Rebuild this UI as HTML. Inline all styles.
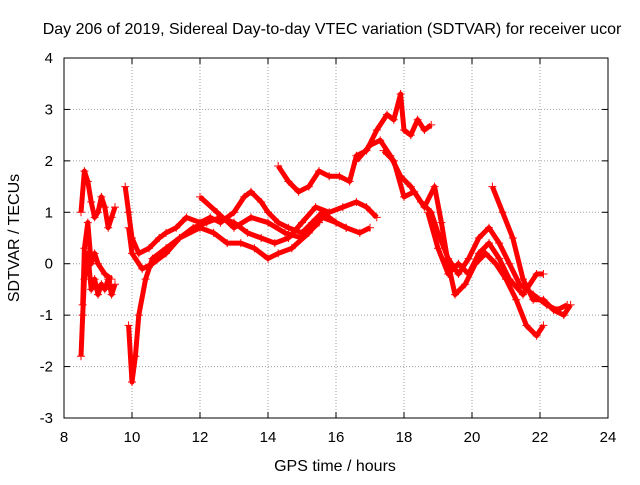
<!DOCTYPE html>
<html><head><meta charset="utf-8"><style>
body{margin:0;background:#fff;}
svg text{font-family:"Liberation Sans",sans-serif;font-size:15px;fill:#000;}
svg text.big{font-size:16px;}
</style></head><body>
<svg id="chart" width="640" height="480">
<text class="big" x="332" y="34" text-anchor="middle">Day 206 of 2019, Sidereal Day-to-day VTEC variation (SDTVAR) for receiver ucor</text>
<g id="grid"></g><g id="ticks"></g><g id="series"></g>
<rect x="64" y="58" width="544" height="360" fill="none" stroke="#000"/>
<text class="big" x="335" y="471" text-anchor="middle">GPS time / hours</text>
<text class="big" transform="translate(19,238) rotate(-90)" text-anchor="middle">SDTVAR / TECUs</text>
</svg>
<script>
const xTicks=[8,10,12,14,16,18,20,22,24];
const yTicks=[-3,-2,-1,0,1,2,3,4];
const trackA=[[8.5,1.0],[8.6,1.8],[8.7,1.6],[8.8,1.2],[8.9,0.9],[9.0,1.0],[9.1,1.3],[9.2,1.1],[9.3,0.7],[9.4,0.9],[9.5,1.1]];
const trackB=[[8.5,-1.8],[8.55,-1.0],[8.6,-0.3],[8.7,0.2],[8.8,-0.5],[8.9,-0.3],[9.0,-0.6],[9.1,-0.4],[9.2,-0.5],[9.3,-0.3],[9.4,-0.6],[9.5,-0.4]];
const trackC=[[8.55,-0.8],[8.6,0.3],[8.7,0.8],[8.8,0.0],[8.9,0.2],[9.0,0.0],[9.2,-0.2],[9.4,-0.3]];
const trackD=[[9.8,1.5],[9.9,1.0],[10.0,0.5],[10.2,0.2],[10.5,0.3],[10.8,0.5],[11.0,0.6],[11.3,0.7],[11.6,0.9],[12.0,0.8],[12.3,0.9],[12.6,0.8],[13.0,1.0],[13.3,1.3],[13.5,1.4],[13.8,1.2],[14.0,1.0],[14.3,0.8],[14.6,0.7],[15.0,0.6],[15.3,0.8],[15.6,1.0],[16.0,0.8],[16.3,0.7],[16.7,0.6],[17.0,0.7]];
const trackE=[[9.9,0.7],[10.0,0.2],[10.3,-0.1],[10.6,0.0],[11.0,0.2],[11.4,0.5],[11.8,0.7],[12.2,0.8],[12.6,0.9],[13.0,0.8],[13.4,0.6],[13.8,0.5],[14.2,0.4],[14.6,0.5],[15.0,0.8],[15.4,1.1],[15.8,1.0],[16.2,1.1],[16.6,1.2],[16.9,1.1],[17.2,0.9]];
const trackF=[[9.9,-1.2],[10.0,-2.3],[10.1,-1.8],[10.2,-1.0],[10.4,-0.3],[10.6,0.1],[11.0,0.3],[11.4,0.5],[12.0,0.7],[12.4,0.6],[12.8,0.4],[13.2,0.4],[13.6,0.3],[14.0,0.1],[14.3,0.2],[14.7,0.3],[15.2,0.6],[15.6,0.9],[16.0,0.8],[16.3,0.7]];
const trackG=[[12.0,1.3],[12.5,1.0],[13.0,0.7],[13.5,0.9],[14.0,0.8],[14.5,0.6],[15.0,0.5],[15.5,0.8]];
const trackH=[[14.3,1.9],[14.6,1.6],[14.9,1.4],[15.2,1.5],[15.5,1.8],[15.8,1.7],[16.1,1.7],[16.4,1.6],[16.6,2.1],[16.9,2.2],[17.2,2.6],[17.5,2.9],[17.7,2.8],[17.9,3.3],[18.0,2.6],[18.2,2.5],[18.4,2.8],[18.6,2.6],[18.8,2.7]];
const trackI=[[16.6,2.0],[17.0,2.3],[17.3,2.4],[17.6,2.1],[17.9,1.7],[18.2,1.5],[18.5,1.2],[18.8,1.0],[19.0,0.6],[19.3,0.1],[19.6,-0.2],[19.9,0.1],[20.2,0.5],[20.5,0.7],[20.8,0.4],[21.1,0.0],[21.4,-0.4],[21.8,-0.6],[22.2,-0.8],[22.5,-0.9],[22.8,-0.8]];
const trackJ=[[17.4,2.2],[17.7,2.0],[18.0,1.3],[18.3,1.4],[18.6,1.1],[18.9,1.5],[19.1,0.8],[19.3,0.0],[19.5,-0.6],[19.8,-0.4],[20.1,0.0],[20.4,0.2],[20.7,0.0],[21.0,-0.3],[21.3,-0.7],[21.6,-1.2],[21.9,-1.4],[22.1,-1.2]];
const trackK=[[18.7,1.0],[19.0,0.3],[19.3,-0.2],[19.6,0.0],[19.9,-0.2],[20.2,0.2],[20.5,0.4],[20.8,0.1],[21.1,-0.3],[21.5,-0.6],[21.9,-0.2],[22.1,-0.2]];
const trackL=[[20.6,1.5],[20.9,1.0],[21.2,0.5],[21.5,-0.3],[21.8,-0.7],[22.1,-0.7],[22.4,-0.9],[22.7,-1.0],[22.9,-0.8]];
const tracks=[trackA,trackB,trackC,trackD,trackE,trackF,trackG,trackH,trackI,trackJ,trackK,trackL];

const NS="http://www.w3.org/2000/svg";
const X=v=>64+(v-8)*34;
const Y=v=>418-(v+3)*360/7;
function mk(tag,attrs,parent){const e=document.createElementNS(NS,tag);for(const k in attrs)e.setAttribute(k,attrs[k]);parent.appendChild(e);return e;}
const grid=document.getElementById('grid'),ticks=document.getElementById('ticks'),ser=document.getElementById('series');
xTicks.forEach(t=>{
  if(t>8&&t<24){const g=mk('line',{x1:X(t),x2:X(t),y1:58,y2:418,stroke:'#a0a0a0','stroke-dasharray':'1,2'},grid);
  
  }
  mk('line',{x1:X(t),x2:X(t),y1:418,y2:412,stroke:'#000'},ticks);
  mk('line',{x1:X(t),x2:X(t),y1:58,y2:64,stroke:'#000'},ticks);
  const tx=mk('text',{x:X(t),y:442,'text-anchor':'middle'},ticks);tx.textContent=t;
  
  
});
yTicks.forEach(t=>{
  if(t>-3&&t<4){const g=mk('line',{x1:64,x2:608,y1:Y(t),y2:Y(t),stroke:'#a0a0a0','stroke-dasharray':'1,2'},grid);
  
  }
  mk('line',{x1:64,x2:70,y1:Y(t),y2:Y(t),stroke:'#000'},ticks);
  mk('line',{x1:602,x2:608,y1:Y(t),y2:Y(t),stroke:'#000'},ticks);
  const tx=mk('text',{x:53,y:Y(t)+5,'text-anchor':'end'},ticks);tx.textContent=t;
  
  
});
tracks.forEach((tr,i)=>{
  const pl=mk('polyline',{points:tr.map(p=>X(p[0])+','+Y(p[1])).join(' '),fill:'none',stroke:'#ff0000','stroke-width':5,'stroke-linejoin':'round'},ser);
  
  
  tr.forEach(p=>{
    const x=X(p[0]),y=Y(p[1]);
    const m=mk('path',{d:`M${x-4},${y}H${x+4}M${x},${y-4}V${y+4}`,stroke:'#ff0000','stroke-width':1},ser);
    
    
  });
});
</script>
</body></html>
